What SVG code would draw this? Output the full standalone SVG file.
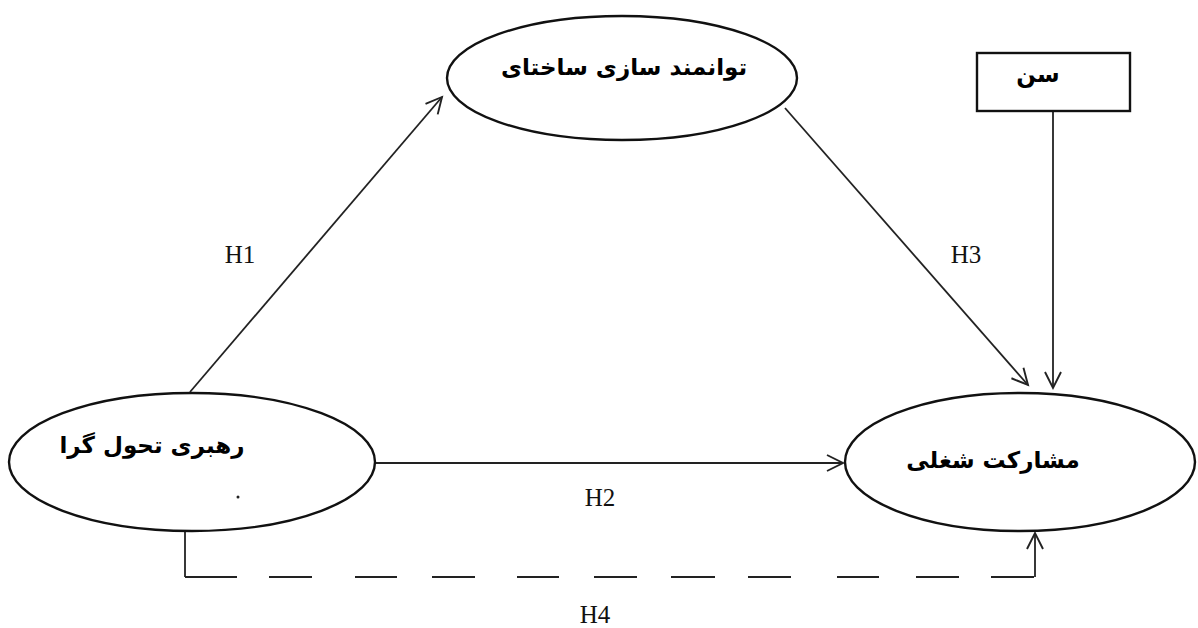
<svg xmlns="http://www.w3.org/2000/svg" width="1198" height="628" viewBox="0 0 1198 628">
<style>
.node{fill:#fff;stroke:#111;stroke-width:2.4}
.fa{font-family:"DejaVu Sans",sans-serif;font-weight:bold;font-size:23px;fill:#000;text-anchor:middle;direction:rtl}
.lbl{font-family:"Liberation Serif",serif;font-size:25px;fill:#111;text-anchor:middle}
.edge{fill:none;stroke:#222;stroke-width:1.8}
</style>
<defs>
<marker id="arr" markerUnits="userSpaceOnUse" markerWidth="24" markerHeight="24" refX="18" refY="9" orient="auto" viewBox="0 0 24 18">
<path d="M2,1 L18,9 L2,17" fill="none" stroke="#222" stroke-width="1.9"/>
</marker>
</defs>
<rect width="1198" height="628" fill="#fff"/>
<g id="connectors">
<line class="edge" x1="190" y1="392" x2="442" y2="97" marker-end="url(#arr)"/>
<line class="edge" x1="785" y1="108" x2="1028" y2="385" marker-end="url(#arr)"/>
<line class="edge" x1="1053" y1="111" x2="1053" y2="388" marker-end="url(#arr)"/>
<line class="edge" x1="375" y1="463" x2="843" y2="463" marker-end="url(#arr)"/>
<line class="edge" x1="185" y1="531" x2="185" y2="577"/>
<line class="edge" x1="185" y1="577" x2="1035" y2="577" stroke-width="2.6" stroke-dasharray="52 32 43 43 42 35 43 42 42 35 43 34 44 33 43 46 42 37 43 32 43"/>
<line class="edge" x1="1035" y1="577" x2="1035" y2="533" marker-end="url(#arr)"/>
</g>
<g id="node-empowerment">
<ellipse class="node" cx="622" cy="78" rx="175" ry="62"/>
<text class="fa" x="624" y="75">توانمند سازی ساختای</text>
</g>
<g id="node-age">
<rect class="node" x="977" y="53" width="153" height="58" stroke-width="1.5"/>
<text class="fa" x="1038" y="82">سن</text>
</g>
<g id="node-leadership">
<ellipse class="node" cx="192" cy="462" rx="183" ry="69"/>
<text class="fa" x="152" y="453">رهبری تحول گرا</text>
<circle cx="238" cy="497" r="1.5" fill="#222"/>
</g>
<g id="node-engagement">
<ellipse class="node" cx="1020" cy="462" rx="175" ry="69"/>
<text class="fa" x="993" y="468">مشارکت شغلی</text>
</g>
<g id="labels">
<text class="lbl" x="240" y="263">H1</text>
<text class="lbl" x="966" y="263">H3</text>
<text class="lbl" x="600" y="506">H2</text>
<text class="lbl" x="595" y="623">H4</text>
</g>
</svg>
